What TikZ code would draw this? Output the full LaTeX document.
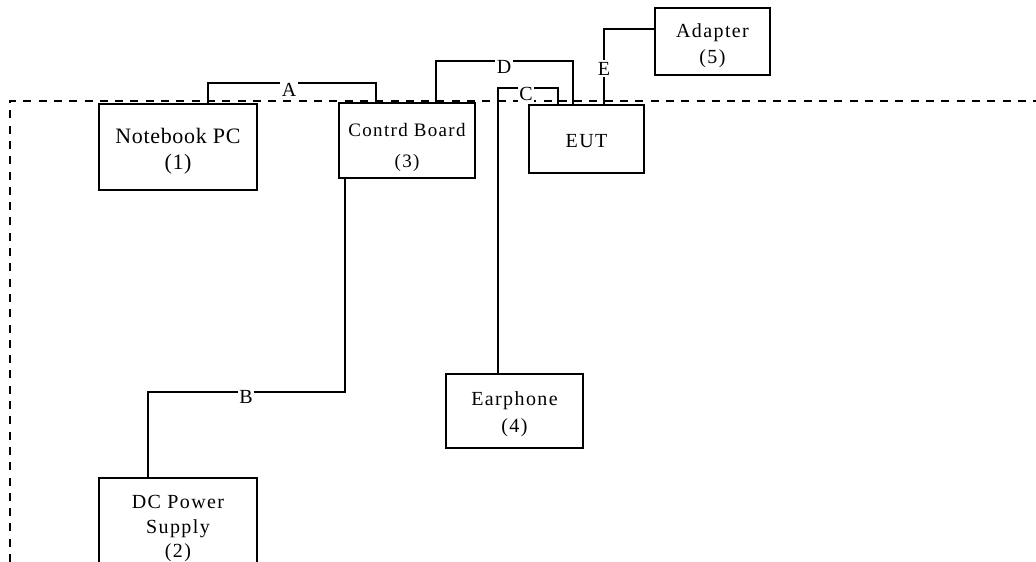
\documentclass[tikz,border=0pt]{standalone}
\usepackage{fontspec}
\setmainfont{Liberation Serif}
\newfontfamily\spaced[LetterSpace=7]{Liberation Serif}
\newfontfamily\spacedlite[LetterSpace=3]{Liberation Serif}
\begin{document}
\begin{tikzpicture}[x=1pt,y=-1pt,
  box/.style={draw,line width=2pt,anchor=north west,inner sep=0pt},
  txt/.style={align=center,inner sep=0pt,font=\spaced\fontsize{20}{26}\selectfont},
  wire/.style={line width=2pt},
  lab/.style={fill=white,inner sep=1.5pt,font=\fontsize{20}{20}\selectfont},
  border/.style={line width=1.1pt,dash pattern=on 8pt off 7.3pt}]
\useasboundingbox (0,0) rectangle (1036,562);
\clip (0,0) rectangle (1036,562);
% enclosure
\coordinate (bl) at (10,562);
\coordinate (tl) at (10,101);
\coordinate (tr) at (1036,101);
\draw[border] (bl) -- (tl) -- (tr);
% boxes
\node[box,minimum width=158,minimum height=86] (nb) at (98,103) {};
\node[box,minimum width=136,minimum height=75] (cb) at (338,102) {};
\node[box,minimum width=115,minimum height=68] (eut) at (528,104) {};
\node[box,minimum width=115,minimum height=67] (ad) at (654,7) {};
\node[box,minimum width=137,minimum height=74] (ep) at (445,373) {};
\node[box,minimum width=158,minimum height=100] (dc) at (98,477) {};
% box texts
\node[txt,font=\spacedlite\fontsize{22}{26}\selectfont] (nbt) at ([yshift=-4]nb.center) {Notebook PC\\(1)};
\node[txt,font=\spaced\fontsize{19}{31}\selectfont] (cbt) at ([yshift=-6.5]cb.center) {Contrd Board\\(3)};
\node[txt] (eutt) at ([yshift=-2]eut.center) {EUT};
\node[txt] (adt) at ([yshift=-4]ad.center) {Adapter\\(5)};
\node[txt,font=\spaced\fontsize{20}{27}\selectfont] (ept) at ([yshift=-3]ep.center) {Earphone\\(4)};
\node[txt,font=\spaced\fontsize{20}{24.5}\selectfont] (dct) at ([yshift=-1]dc.center) {DC Power\\Supply\\(2)};
% connectors
\draw[wire] ([xshift=110]nb.north west) |- (376,83) -- ([xshift=38]cb.north west);
\draw[wire] ([xshift=7]cb.south west) |- (148,392) -- ([xshift=50]dc.north west);
\draw[wire] ([xshift=53]ep.north west) |- (558,88) -- ([xshift=30]eut.north west);
\draw[wire] ([xshift=98]cb.north west) |- (573,61) -- ([xshift=45]eut.north west);
\draw[wire] ([xshift=76]eut.north west) |- ([yshift=13]ad.west);
% labels
\node[lab,anchor=north] (la) at (289,82) {A};
\node[lab,anchor=north] (lb) at (246,389) {B};
\node[lab,anchor=north] (lc) at (526,86) {C};
\node[lab,anchor=north] (ld) at (504,59) {D};
\node[lab] (le) at (604,68.5) {E};
\end{tikzpicture}
\end{document}
